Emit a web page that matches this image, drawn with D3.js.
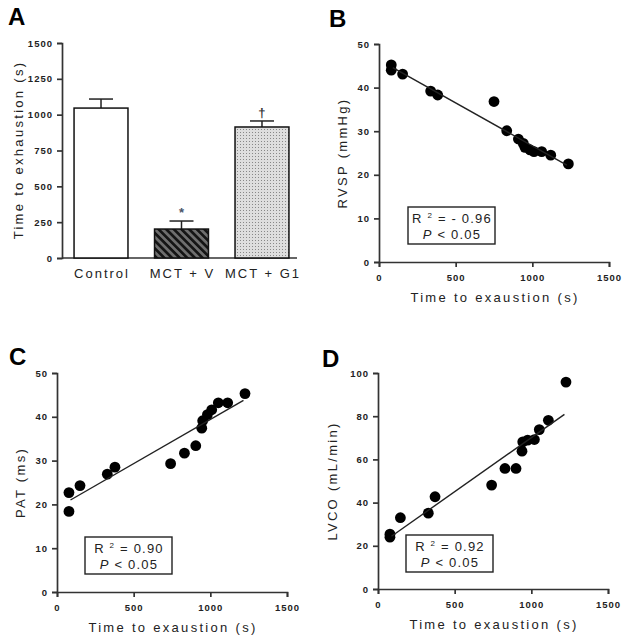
<!DOCTYPE html>
<html>
<head>
<meta charset="utf-8">
<script src="https://cdn.jsdelivr.net/npm/d3@7"></script>
<style>
body { margin: 0; background: #fff; }
text { font-family: "Liberation Sans", Arial, sans-serif; fill: #222; }
.tick text { font-size: 9.5px; font-weight: bold; letter-spacing: 1px; }
.tick line, .domain { stroke: #333; stroke-width: 1.7px; }
.lab { font-size: 13px; letter-spacing: 2.3px; }
.box { font-size: 13px; letter-spacing: 1.2px; }
.panel { font-size: 24px; font-weight: bold; fill: #000; }
</style>
</head>
<body>
<svg id="fig" width="632" height="641"></svg>
<script>
// panel A
var groups = ["Control", "MCT + V", "MCT + G1"]
var meanTime = [1046, 202, 914]
var semTime = [63, 56, 42]
var marks = ["", "*", "\u2020"]

// x values shared by the correlation panels (time to exhaustion, s)
var rvspTime = [80, 80, 154, 337, 383, 750, 833, 909, 941, 952, 985, 1011, 1061, 1120, 1235]
var rvsp = [45.2, 44.0, 43.1, 39.2, 38.3, 36.8, 30.1, 28.2, 27.2, 26.3, 25.7, 25.3, 25.3, 24.5, 22.5]

var patTime = [78, 78, 150, 328, 378, 741, 831, 905, 944, 950, 981, 1009, 1052, 1113, 1226]
var pat = [22.7, 18.4, 24.3, 26.9, 28.5, 29.3, 31.7, 33.4, 37.4, 39.1, 40.5, 41.6, 43.2, 43.2, 45.3]

var lvcoTime = [78, 78, 146, 328, 372, 741, 828, 900, 939, 944, 976, 1020, 1052, 1111, 1226]
var lvco = [25.4, 24.0, 33.0, 35.1, 42.7, 48.1, 55.8, 55.8, 63.8, 68.1, 68.9, 69.2, 73.8, 78.1, 95.8]

var xTicks = [0, 500, 1000, 1500]

var svg = d3.select("#fig")

var defs = svg.append("defs")
var hatch = defs.append("pattern")
  .attr("id", "hatch")
  .attr("patternUnits", "userSpaceOnUse")
  .attr("width", 5.4).attr("height", 5.4)
  .attr("patternTransform", "rotate(45)")
hatch.append("rect").attr("width", 5.4).attr("height", 5.4).attr("fill", "#6e6e6e")
hatch.append("rect").attr("width", 5.4).attr("height", 2.7).attr("fill", "#151515")

var dots = defs.append("pattern")
  .attr("id", "dots")
  .attr("patternUnits", "userSpaceOnUse")
  .attr("width", 3).attr("height", 3)
dots.append("rect").attr("width", 3).attr("height", 3).attr("fill", "#dedede")
dots.append("rect").attr("width", 1).attr("height", 1).attr("fill", "#888")

// ---------- A: bar chart ----------
var a = svg.append("g")
var ay = d3.scaleLinear().domain([0, 1500]).range([258, 43])
var ax = d3.scaleBand().domain(groups).range([66, 297]).paddingInner(0.33).paddingOuter(0.1)
var fills = ["#fff", "url(#hatch)", "url(#dots)"]

a.append("g").attr("transform", "translate(62,0)")
  .call(d3.axisLeft(ay).tickValues(d3.range(0, 1501, 250)).tickFormat(d3.format("d")).tickSize(5).tickPadding(4))
a.append("line").attr("x1", 62).attr("x2", 297).attr("y1", 258).attr("y2", 258)
  .attr("stroke", "#333").attr("stroke-width", 1.7)

groups.forEach(function(g, i) {
  var cx = ax(g) + ax.bandwidth() / 2
  a.append("line").attr("x1", cx).attr("x2", cx)
    .attr("y1", ay(meanTime[i])).attr("y2", ay(meanTime[i] + semTime[i]))
    .attr("stroke", "#222").attr("stroke-width", 1.5)
  a.append("line").attr("x1", cx - 12).attr("x2", cx + 12)
    .attr("y1", ay(meanTime[i] + semTime[i])).attr("y2", ay(meanTime[i] + semTime[i]))
    .attr("stroke", "#222").attr("stroke-width", 1.5)
  a.append("rect")
    .attr("x", ax(g)).attr("width", ax.bandwidth())
    .attr("y", ay(meanTime[i])).attr("height", ay(0) - ay(meanTime[i]))
    .attr("fill", fills[i]).attr("stroke", "#111").attr("stroke-width", 1.5)
  a.append("text").attr("class", "lab").attr("x", cx + 1).attr("y", 278)
    .attr("text-anchor", "middle").style("letter-spacing", "2px").text(g)
  if (marks[i]) {
    a.append("text").attr("x", cx).attr("y", ay(meanTime[i] + semTime[i]) - 4)
      .attr("text-anchor", "middle").style("font-size", "13px").style("font-weight", "bold")
      .style("fill", i == 1 ? "#4a5568" : "#333").text(marks[i])
  }
})
a.append("text").attr("class", "lab")
  .attr("transform", "translate(23,150) rotate(-90)")
  .attr("text-anchor", "middle").text("Time to exhaustion (s)")
a.append("text").attr("class", "panel").attr("x", 8).attr("y", 25).text("A")

// ---------- scatter panels ----------
function scatter(o) {
  var g = svg.append("g")
  var x = d3.scaleLinear().domain([0, 1500]).range([o.left, o.left + 230])
  var y = d3.scaleLinear().domain([0, o.ymax]).range([o.bottom, o.top])

  g.append("g").attr("transform", "translate(" + o.left + ",0)")
    .call(d3.axisLeft(y).tickValues(o.yTicks).tickSize(5).tickPadding(4))
  g.append("g").attr("transform", "translate(0," + o.bottom + ")")
    .call(d3.axisBottom(x).tickValues(xTicks).tickFormat(d3.format("d")).tickSize(5).tickPadding(7))

  // least squares line over the data range
  var mx = d3.mean(o.xs), my = d3.mean(o.ys)
  var sxy = d3.sum(o.xs, function(v, i) { return (v - mx) * (o.ys[i] - my) })
  var sxx = d3.sum(o.xs, function(v) { return (v - mx) * (v - mx) })
  var b = sxy / sxx, c = my - b * mx
  var x0 = d3.min(o.xs) + 10, x1 = d3.max(o.xs) - 10

  g.selectAll("circle").data(o.xs).enter().append("circle")
    .attr("cx", function(d) { return x(d) })
    .attr("cy", function(d, i) { return y(o.ys[i]) })
    .attr("r", 5.4).attr("fill", "#000")

  g.append("line").attr("x1", x(x0)).attr("x2", x(x1))
    .attr("y1", y(b * x0 + c)).attr("y2", y(b * x1 + c))
    .attr("stroke", "#222").attr("stroke-width", 1.4)

  g.append("rect").attr("x", o.box[0]).attr("y", o.box[1])
    .attr("width", 87).attr("height", 37)
    .attr("fill", "#fff").attr("stroke", "#222").attr("stroke-width", 1.4)
  var t1 = g.append("text").attr("class", "box").attr("x", o.box[0] + 44).attr("y", o.box[1] + 16)
    .attr("text-anchor", "middle")
  t1.append("tspan").text("R ")
  t1.append("tspan").attr("dy", -5).style("font-size", "8px").text("2")
  t1.append("tspan").attr("dy", 5).text(" = " + o.r2)
  var t2 = g.append("text").attr("class", "box").attr("x", o.box[0] + 44).attr("y", o.box[1] + 32)
    .attr("text-anchor", "middle")
  t2.append("tspan").style("font-style", "italic").text("P")
  t2.append("tspan").text(" < 0.05")

  g.append("text").attr("class", "lab")
    .attr("x", o.left + 116).attr("y", o.bottom + 40)
    .attr("text-anchor", "middle").text("Time to exaustion (s)")
  g.append("text").attr("class", "lab")
    .attr("transform", "translate(" + o.ylabX + "," + ((o.top + o.bottom) / 2) + ") rotate(-90)")
    .attr("text-anchor", "middle").text(o.ylab)
  g.append("text").attr("class", "panel").attr("x", o.letter[0]).attr("y", o.letter[1]).text(o.name)
}

scatter({ name: "B", left: 379, top: 44, bottom: 262, ymax: 50, yTicks: d3.range(0, 51, 10),
  xs: rvspTime, ys: rvsp, r2: "- 0.96", box: [408, 207], ylab: "RVSP (mmHg)", ylabX: 347, letter: [329, 27] })
scatter({ name: "C", left: 57, top: 373, bottom: 592, ymax: 50, yTicks: d3.range(0, 51, 10),
  xs: patTime, ys: pat, r2: "0.90", box: [85, 537], ylab: "PAT (ms)", ylabX: 25, letter: [9, 365] })
scatter({ name: "D", left: 378, top: 373, bottom: 589, ymax: 100, yTicks: d3.range(0, 101, 20),
  xs: lvcoTime, ys: lvco, r2: "0.92", box: [406, 535], ylab: "LVCO (mL/min)", ylabX: 337, letter: [322, 367] })
</script>
</body>
</html>
